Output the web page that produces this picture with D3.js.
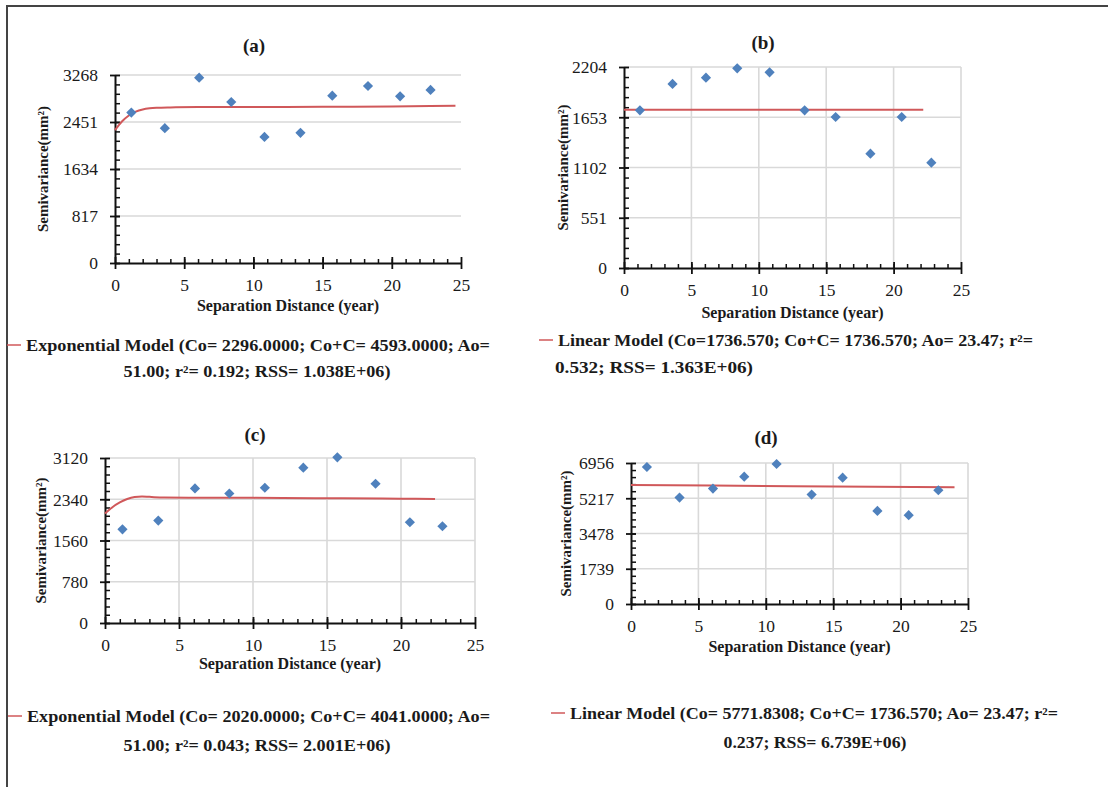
<!DOCTYPE html>
<html>
<head>
<meta charset="utf-8">
<script src="https://cdn.jsdelivr.net/npm/d3@7/dist/d3.min.js"></script>
<style>
body { margin: 0; background: #fff; }
text { font-family: "Liberation Serif", "Times New Roman", serif; fill: #1a1a1a; }
</style>
</head>
<body>
<div id="chart"></div>
<script>
//Width and height
var w = 1108;
var h = 787;

//Lag distances (years), shared by all panels
var lags = [1.18, 3.6, 6.08, 8.4, 10.8, 13.4, 15.7, 18.28, 20.6, 22.8];

//Experimental semivariance (mm²)
var semivarA = [2614, 2343, 3222, 2799, 2192, 2262, 2909, 3077, 2898, 3008];
var semivarB = [1729, 2018, 2087, 2189, 2146, 1729, 1656, 1254, 1656, 1155];
var semivarC = [1772, 1937, 2544, 2449, 2557, 2937, 3133, 2633, 1905, 1829];
var semivarD = [6759, 5250, 5693, 6283, 6907, 5398, 6234, 4594, 4380, 5611];

//Fitted model lines
var modelAx = [0, 0.5, 1, 1.5, 2, 2.5, 3, 4, 6, 10, 15, 20, 24.6];
var modelAy = [2310, 2460, 2565, 2630, 2668, 2688, 2698, 2705, 2710, 2712, 2716, 2722, 2732];
var modelBx = [0, 22.2];
var modelBy = [1736.57, 1736.57];
var modelCx = [0, 0.5, 1, 1.5, 2, 2.5, 3, 4, 8, 12, 16, 20, 22.3];
var modelCy = [2070, 2190, 2280, 2345, 2382, 2392, 2385, 2372, 2368, 2364, 2358, 2350, 2343];
var modelDx = [0, 12, 24];
var modelDy = [5870, 5815, 5760];

//Axis ticks
var xTicks = [0, 5, 10, 15, 20, 25];
var yTicksA = [0, 817, 1634, 2451, 3268];
var yTicksB = [0, 551, 1102, 1653, 2204];
var yTicksC = [0, 780, 1560, 2340, 3120];
var yTicksD = [0, 1739, 3478, 5217, 6956];

//Labels
var panelTitles = ["(a)", "(b)", "(c)", "(d)"];
var xTitle = "Separation Distance (year)";
var yTitle = "Semivariance(mm²)";
var legendA = ["Exponential Model (Co= 2296.0000; Co+C= 4593.0000; Ao=", "51.00; r²= 0.192; RSS= 1.038E+06)"];
var legendB = ["Linear Model (Co=1736.570; Co+C= 1736.570; Ao= 23.47; r²=", "0.532; RSS= 1.363E+06)"];
var legendC = ["Exponential Model (Co= 2020.0000; Co+C= 4041.0000; Ao=", "51.00; r²= 0.043; RSS= 2.001E+06)"];
var legendD = ["Linear Model (Co= 5771.8308; Co+C= 1736.570; Ao= 23.47; r²=", "0.237; RSS= 6.739E+06)"];

var blue = "#4f81bd";
var red = "#d0585a";

//Create svg
var svg = d3.select("#chart")
.append("svg")
.attr("width", w)
.attr("height", h);

svg.append("rect").attr("width", w).attr("height", h).attr("fill", "#fff");

//Frame (top and left only)
svg.append("path")
.attr("d", "M7,787 V6 H1108")
.attr("fill", "none")
.attr("stroke", "#444")
.attr("stroke-width", 2);

//Panel layouts
var panels = [
  {title: panelTitles[0], y: semivarA, ticks: yTicksA, mx: modelAx, my: modelAy, legend: legendA,
   left: 115, right: 461, top: 75, bottom: 263, vgrid: false,
   titleX: 254, titleY: 52, xtY: 311, ytX: 48,
   legX: 26, legY: 351, leg2X: 257, leg2Y: 377, leg2Anchor: "middle", legW: 464, leg2W: 267},
  {title: panelTitles[1], y: semivarB, ticks: yTicksB, mx: modelBx, my: modelBy, legend: legendB,
   left: 624, right: 961, top: 67, bottom: 268, vgrid: true,
   titleX: 763, titleY: 49, xtY: 318, ytX: 568,
   legX: 558, legY: 346, leg2X: 555, leg2Y: 373, leg2Anchor: "start", legW: 475, leg2W: 198},
  {title: panelTitles[2], y: semivarC, ticks: yTicksC, mx: modelCx, my: modelCy, legend: legendC,
   left: 105, right: 475, top: 458, bottom: 623, vgrid: true,
   titleX: 255, titleY: 441, xtY: 669, ytX: 46,
   legX: 27, legY: 722, leg2X: 257, leg2Y: 751, leg2Anchor: "middle", legW: 463, leg2W: 267},
  {title: panelTitles[3], y: semivarD, ticks: yTicksD, mx: modelDx, my: modelDy, legend: legendD,
   left: 631, right: 968, top: 463, bottom: 604, vgrid: true,
   titleX: 766, titleY: 444, xtY: 652, ytX: 571,
   legX: 570, legY: 719, leg2X: 815, leg2Y: 748, leg2Anchor: "middle", legW: 488, leg2W: 183}
];

panels.forEach(function(p) {
  var g = svg.append("g");
  var ymax = p.ticks[p.ticks.length - 1];

  //Create scales
  var xScale = d3.scaleLinear()
  .domain([0, 25])
  .range([p.left, p.right]);

  var yScale = d3.scaleLinear()
  .domain([0, ymax])
  .range([p.bottom, p.top]);

  //Gridlines
  g.append("g")
  .selectAll("line")
  .data(p.ticks.slice(1))
  .enter()
  .append("line")
  .attr("x1", p.left)
  .attr("x2", p.right)
  .attr("y1", function(d) { return yScale(d); })
  .attr("y2", function(d) { return yScale(d); })
  .attr("stroke", "#d9d9d9")
  .attr("stroke-width", 1.6);

  if (p.vgrid) {
    g.append("g")
    .selectAll("line")
    .data(xTicks.slice(1))
    .enter()
    .append("line")
    .attr("x1", function(d) { return xScale(d); })
    .attr("x2", function(d) { return xScale(d); })
    .attr("y1", p.top)
    .attr("y2", p.bottom)
    .attr("stroke", "#d9d9d9")
    .attr("stroke-width", 1.6);
  }

  //Minor ticks
  g.append("g")
  .attr("transform", "translate(0," + p.bottom + ")")
  .call(d3.axisTop(xScale).tickValues(d3.range(1, 25)).tickSize(4).tickFormat(""))
  .call(function(s) { s.select(".domain").remove(); })
  .selectAll(".tick line").attr("stroke", "#111").attr("stroke-width", 1.5);

  g.append("g")
  .attr("transform", "translate(" + p.left + ",0)")
  .call(d3.axisRight(yScale).tickValues(d3.range(1, 20).map(function(i) { return ymax * i / 20; })).tickSize(5).tickFormat(""))
  .call(function(s) { s.select(".domain").remove(); })
  .selectAll(".tick line").attr("stroke", "#111").attr("stroke-width", 1.5);

  //Create axes
  var xAxis = d3.axisBottom(xScale)
  .tickValues(xTicks)
  .tickSizeOuter(0)
  .tickPadding(10)
  .tickFormat(d3.format("d"));

  var yAxis = d3.axisLeft(yScale)
  .tickValues(p.ticks)
  .tickSizeOuter(0)
  .tickPadding(11)
  .tickFormat(d3.format("d"));

  var gx = g.append("g")
  .attr("transform", "translate(0," + p.bottom + ")")
  .call(xAxis);

  var gy = g.append("g")
  .attr("transform", "translate(" + p.left + ",0)")
  .call(yAxis);

  [gx, gy].forEach(function(a) {
    a.select(".domain").attr("stroke", "#111").attr("stroke-width", 2);
    a.selectAll(".tick line").attr("stroke", "#111").attr("stroke-width", 1.8);
    a.selectAll(".tick text")
    .style("font-family", "'Liberation Serif', serif")
    .style("font-size", "17.5px")
    .attr("fill", "#262626");
  });
  gx.selectAll(".tick line").attr("y1", -6).attr("y2", 6);
  gy.selectAll(".tick line").attr("x1", 5).attr("x2", -5);
  gy.selectAll(".tick text").attr("dy", "0.33em");

  //Model line
  var line = d3.line()
  .x(function(d) { return xScale(d[0]); })
  .y(function(d) { return yScale(d[1]); })
  .curve(d3.curveMonotoneX);

  g.append("path")
  .datum(d3.zip(p.mx, p.my))
  .attr("d", line)
  .attr("fill", "none")
  .attr("stroke", red)
  .attr("stroke-width", 2);

  //Points
  g.append("g")
  .selectAll("path")
  .data(d3.zip(lags, p.y))
  .enter()
  .append("path")
  .attr("d", d3.symbol().type(d3.symbolSquare).size(52))
  .attr("transform", function(d) {
    return "translate(" + xScale(d[0]) + "," + yScale(d[1]) + ") rotate(45)";
  })
  .attr("fill", blue);

  //Titles
  g.append("text")
  .attr("x", p.titleX)
  .attr("y", p.titleY)
  .attr("text-anchor", "middle")
  .style("font-size", "19px")
  .style("font-weight", "bold")
  .text(p.title);

  g.append("text")
  .attr("x", (p.left + p.right) / 2)
  .attr("y", p.xtY)
  .attr("text-anchor", "middle")
  .style("font-size", "16px")
  .style("font-weight", "bold")
  .text(xTitle);

  g.append("text")
  .attr("transform", "translate(" + p.ytX + "," + ((p.top + p.bottom) / 2) + ") rotate(-90)")
  .attr("text-anchor", "middle")
  .style("font-size", "15px")
  .style("font-weight", "bold")
  .text(yTitle);

  //Legend
  g.append("line")
  .attr("x1", p.legX - 19)
  .attr("x2", p.legX - 5)
  .attr("y1", p.legY - 6)
  .attr("y2", p.legY - 6)
  .attr("stroke", red)
  .attr("stroke-width", 1.5);

  g.append("text")
  .attr("x", p.legX)
  .attr("y", p.legY)
  .attr("textLength", p.legW)
  .attr("lengthAdjust", "spacingAndGlyphs")
  .style("font-size", "16px")
  .style("font-weight", "bold")
  .text(p.legend[0]);

  g.append("text")
  .attr("x", p.leg2X)
  .attr("y", p.leg2Y)
  .attr("text-anchor", p.leg2Anchor)
  .attr("textLength", p.leg2W)
  .attr("lengthAdjust", "spacingAndGlyphs")
  .style("font-size", "16px")
  .style("font-weight", "bold")
  .text(p.legend[1]);
});
</script>
</body>
</html>
